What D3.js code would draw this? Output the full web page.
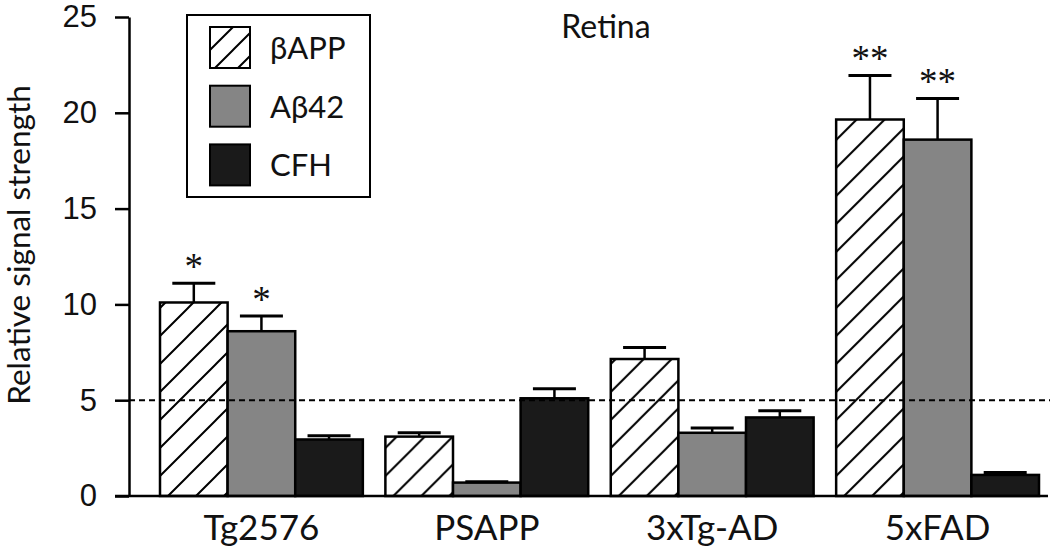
<!DOCTYPE html>
<html>
<head>
<meta charset="utf-8">
<style>
body { margin: 0; background: #fff; }
svg { font-family: Lato, "Open Sans", sans-serif; }
.axis .domain, .axis line { stroke: #000; stroke-width: 2.5; }
.axis text { font-size: 31px; fill: #111; }
</style>
</head>
<body>
<svg id="chart" width="1050" height="550"></svg>
<script src="https://d3js.org/d3.v7.min.js"></script>
<script>
// mouse models and the three measured proteins
var groups = ["Tg2576", "PSAPP", "3xTg-AD", "5xFAD"];
var series = ["βAPP", "Aβ42", "CFH"];

var bAPP = [10.1, 3.1, 7.15, 19.65];
var bAPPErr = [1.0, 0.2, 0.6, 2.3];
var ab42 = [8.6, 0.7, 3.3, 18.6];
var ab42Err = [0.8, 0.05, 0.25, 2.15];
var cfh = [2.95, 5.1, 4.1, 1.1];
var cfhErr = [0.2, 0.5, 0.35, 0.12];

var bAPPSig = ["*", "", "", "**"];
var ab42Sig = ["*", "", "", "**"];
var cfhSig = ["", "", "", ""];

var yTicks = [0, 5, 10, 15, 20, 25];
var threshold = 5;

var fills = {"βAPP": "url(#hatch)", "Aβ42": "#858585", "CFH": "#1a1a1a"};
var legendFills = {"βAPP": "url(#hatch-small)", "Aβ42": "#858585", "CFH": "#1a1a1a"};

var rows = [];
[bAPP, ab42, cfh].forEach(function(vals, s) {
  var errs = [bAPPErr, ab42Err, cfhErr][s];
  var sigs = [bAPPSig, ab42Sig, cfhSig][s];
  vals.forEach(function(v, i) {
    rows.push({group: groups[i], key: series[s], value: v, err: errs[i], sig: sigs[i]});
  });
});

var svg = d3.select("#chart");

var defs = svg.append("defs");
function hatch(id, size) {
  var p = defs.append("pattern")
      .attr("id", id)
      .attr("patternUnits", "userSpaceOnUse")
      .attr("width", size)
      .attr("height", size);
  p.append("rect").attr("width", size).attr("height", size).attr("fill", "#fff");
  p.append("path")
      .attr("d", "M-2," + (size + 2) + "L" + (size + 2) + ",-2M" + (size - 2) + "," + (size + 2) + "L" + (size + 2) + "," + (size - 2) + "M-2,2L2,-2")
      .attr("stroke", "#000")
      .attr("stroke-width", 2);
}
hatch("hatch", 28);
hatch("hatch-small", 23);

var y = d3.scaleLinear().domain([0, 25]).range([496, 17]);

var x = d3.scaleBand()
    .domain(groups)
    .range([160, 1039])
    .paddingInner(0.1)
    .paddingOuter(0);

var xs = d3.scaleBand()
    .domain(series)
    .range([0, x.bandwidth()])
    .padding(0);

// bars
var bar = svg.append("g").selectAll("g")
    .data(rows)
  .enter().append("g")
    .attr("transform", function(d) { return "translate(" + (x(d.group) + xs(d.key)) + ",0)"; });

bar.append("rect")
    .attr("y", function(d) { return y(d.value); })
    .attr("width", xs.bandwidth())
    .attr("height", function(d) { return y(0) - y(d.value); })
    .attr("fill", function(d) { return fills[d.key]; })
    .attr("stroke", "#000")
    .attr("stroke-width", 2.5);

// error bars
var cx = xs.bandwidth() / 2;
bar.append("line")
    .attr("x1", cx).attr("x2", cx)
    .attr("y1", function(d) { return y(d.value); })
    .attr("y2", function(d) { return y(d.value + d.err); })
    .attr("stroke", "#000")
    .attr("stroke-width", 2.5);
bar.append("line")
    .attr("x1", cx - 21.5).attr("x2", cx + 21.5)
    .attr("y1", function(d) { return y(d.value + d.err); })
    .attr("y2", function(d) { return y(d.value + d.err); })
    .attr("stroke", "#000")
    .attr("stroke-width", 3);

// significance marks
bar.filter(function(d) { return d.sig; }).append("text")
    .attr("x", cx)
    .attr("y", function(d) { return y(d.value + d.err) - 4; })
    .attr("text-anchor", "middle")
    .attr("font-family", "'Liberation Serif', serif")
    .attr("font-size", 37)
    .attr("fill", "#111")
    .text(function(d) { return d.sig; });

// dashed reference line at 5
svg.append("line")
    .attr("x1", 129).attr("x2", 1050)
    .attr("y1", y(threshold)).attr("y2", y(threshold))
    .attr("stroke", "#000")
    .attr("stroke-width", 2)
    .attr("stroke-dasharray", "6,4");

// y axis
svg.append("g")
    .attr("class", "axis")
    .attr("transform", "translate(129,0)")
    .call(d3.axisLeft(y).tickValues(yTicks).tickSize(14).tickSizeOuter(0).tickPadding(18));

// x axis baseline
svg.append("line")
    .attr("x1", 115).attr("x2", 1048)
    .attr("y1", y(0)).attr("y2", y(0))
    .attr("stroke", "#000")
    .attr("stroke-width", 2.5);

svg.append("g").selectAll("text")
    .data(groups)
  .enter().append("text")
    .attr("x", function(d) { return x(d) + x.bandwidth() / 2; })
    .attr("y", 540)
    .attr("text-anchor", "middle")
    .attr("font-size", 35)
    .attr("fill", "#111")
    .text(function(d) { return d; });

svg.append("text")
    .attr("transform", "translate(30,245) rotate(-90)")
    .attr("text-anchor", "middle")
    .attr("font-size", 31.5)
    .attr("fill", "#111")
    .text("Relative signal strength");

svg.append("text")
    .attr("x", 606)
    .attr("y", 38)
    .attr("text-anchor", "middle")
    .attr("font-size", 32)
    .attr("fill", "#111")
    .text("Retina");

// legend
var legend = svg.append("g");
legend.append("rect")
    .attr("x", 187).attr("y", 15)
    .attr("width", 183).attr("height", 182)
    .attr("fill", "#fff")
    .attr("stroke", "#000")
    .attr("stroke-width", 2);

var item = legend.selectAll("g.item")
    .data(series)
  .enter().append("g")
    .attr("class", "item")
    .attr("transform", function(d, i) { return "translate(210," + (27 + i * 58.7) + ")"; });

item.append("rect")
    .attr("width", 40).attr("height", 41)
    .attr("fill", function(d) { return legendFills[d]; })
    .attr("stroke", "#000")
    .attr("stroke-width", 2);

item.append("text")
    .attr("x", 60)
    .attr("y", 32)
    .attr("font-size", 31)
    .attr("fill", "#111")
    .text(function(d) { return d; });
</script>
</body>
</html>
